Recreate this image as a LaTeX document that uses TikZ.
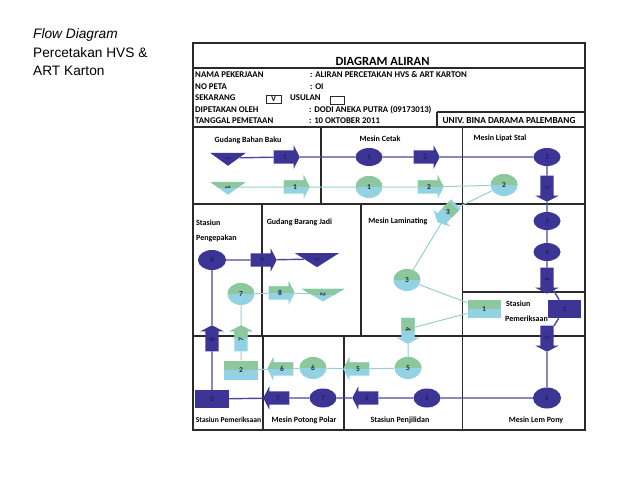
\documentclass[tikz,border=0pt]{standalone}
\usepackage{fontspec}
\setmainfont{Carlito}
\newfontfamily\arialf{Liberation Sans}
\usetikzlibrary{shapes.geometric,shapes.arrows}
\definecolor{purp}{HTML}{3D3596}
\definecolor{purpline}{HTML}{4E479E}
\definecolor{purptext}{HTML}{231E68}
\definecolor{grn}{HTML}{8DC79C}
\definecolor{blu}{HTML}{93D2E2}
\definecolor{gtext}{HTML}{1C2A55}
\definecolor{tealline}{HTML}{98D0D2}
\definecolor{gridc}{HTML}{2A2A2A}
\newcommand\myNumFont{\fontsize{7.5}{7.5}\selectfont\bfseries}
\begin{document}
\begin{tikzpicture}[x=1pt,y=-1pt,
 grid/.style={draw=gridc,line width=1.1pt},
 hdr/.style={anchor=base west,inner sep=0pt,font=\fontsize{8.8}{9}\selectfont\bfseries},
 lbl/.style={anchor=base,inner sep=0pt,font=\fontsize{8}{9}\selectfont\bfseries},
 lbll/.style={anchor=base west,inner sep=0pt,font=\fontsize{8}{9}\selectfont\bfseries},
 pshape/.style={fill=purp,text=purptext,inner sep=0pt,font=\myNumFont},
 gshape/.style={fill=blu,text=gtext,inner sep=0pt,font=\myNumFont,
   path picture={\fill[grn] (path picture bounding box.north west) rectangle (path picture bounding box.east);}},
 ell/.style={ellipse,minimum width=27pt,minimum height=19pt},
 boxn/.style={rectangle,minimum width=33pt,minimum height=18pt},
 tri/.style={isosceles triangle,isosceles triangle stretches,rotate=-90},
 arw/.style={single arrow,single arrow head extend=5pt,single arrow tip angle=125,
   text height=5pt,text depth=0pt,inner xsep=2pt,inner ysep=4pt,minimum height=26pt},
 pl/.style={draw=purpline,line width=1.4pt},
 tl/.style={draw=tealline,line width=1pt},
 chk/.style={draw=gridc,line width=0.8pt,inner sep=0pt,minimum width=15pt,minimum height=8pt,font=\fontsize{7.5}{7.5}\selectfont\bfseries}
]
\useasboundingbox (0,0) rectangle (638,479);
\fill[white] (0,0) rectangle (638,479);

% left title
\node[anchor=base west,inner sep=0pt,font=\arialf\fontsize{13.7}{16}\selectfont\itshape] (t1) at (33,38.5) {Flow Diagram};
\node[anchor=base west,inner sep=0pt,font=\arialf\fontsize{13.7}{16}\selectfont] (t2) at (33,57) {Percetakan HVS \&};
\node[anchor=base west,inner sep=0pt,font=\arialf\fontsize{13.7}{16}\selectfont] (t3) at (33,75) {ART Karton};

% frame and grid
\draw[grid] (193,43) rectangle (585,430);
\draw[grid] (193,68) -- (585,68);
\draw[grid] (437,112) -- (585,112);
\draw[grid] (437,112) -- (437,127);
\draw[grid] (193,127) -- (585,127);
\draw[grid] (193,204) -- (585,204);
\draw[grid] (321,127) -- (321,204);
\draw[grid] (462.5,127) -- (462.5,430);
\draw[grid] (262,204) -- (262,336);
\draw[grid] (361,204) -- (361,336);
\draw[grid] (462.5,292) -- (585,292);
\draw[grid] (193,336) -- (585,336);
\draw[grid] (263,336) -- (263,430);
\draw[grid] (344,336) -- (344,430);

% header
\node[anchor=base,inner sep=0pt,font=\fontsize{12.5}{13}\selectfont\bfseries] (title) at (382.5,65) {DIAGRAM ALIRAN};
\node[hdr] (h1) at (195,77.3) {NAMA PEKERJAAN};
\node[hdr] (h2) at (195,89) {NO PETA};
\node[hdr] (h3) at (195,100.7) {SEKARANG};
\node[hdr] (h4) at (195,112) {DIPETAKAN OLEH};
\node[hdr] (h5) at (195,123.7) {TANGGAL PEMETAAN};
\node[hdr] (v1) at (310,77.3) {: ALIRAN PERCETAKAN HVS \& ART KARTON};
\node[hdr] (v2) at (310,89) {: OI};
\node[hdr] (v4) at (309,112) {: DODI ANEKA PUTRA (09173013)};
\node[hdr] (v5) at (309,123.7) {: 10 OKTOBER 2011};
\node[chk] (cb1) at (273.5,99.5) {V};
\node[hdr] (us) at (290,100.7) {USULAN};
\node[chk,minimum width=14pt] (cb2) at (337,100) {};
\node[anchor=base,inner sep=0pt,font=\fontsize{9.3}{9}\selectfont\bfseries] (univ) at (509,123.7) {UNIV. BINA DARAMA PALEMBANG};

% cell labels
\node[lbl] (l1) at (248,142) {Gudang Bahan Baku};
\node[lbl] (l2) at (380,141) {Mesin Cetak};
\node[lbl] (l3) at (500,140) {Mesin Lipat Stal};
\node[lbll] (l4) at (196,225.5) {Stasiun};
\node[lbll] (l5) at (196,240) {Pengepakan};
\node[lbl] (l6) at (299.5,224.5) {Gudang Barang Jadi};
\node[lbl] (l7) at (398,223.5) {Mesin Laminating};
\node[lbll] (l8) at (506,306.5) {Stasiun};
\node[lbll] (l9) at (505,321.5) {Pemeriksaan};
\node[lbl,font=\fontsize{7.6}{9}\selectfont\bfseries] (l10) at (228.5,422.5) {Stasiun Pemeriksaan};
\node[lbl] (l11) at (304,422.5) {Mesin Potong Polar};
\node[lbl] (l12) at (400,422.5) {Stasiun Penjilidan};
\node[lbl] (l13) at (536,422.5) {Mesin Lem Pony};

% purple chain (HVS)
\node[pshape,tri,minimum width=36pt,minimum height=13pt] (pT1) at (228,158) {1};
\node[pshape,arw] (pA1) at (285,157) {1};
\node[pshape,ell,minimum height=18pt] (pO1) at (369,157) {1};
\node[pshape,arw] (pA2) at (425,157) {2};
\node[pshape,ell,minimum height=18pt] (pO2) at (547,157) {2};
\node[pshape,arw,rotate=-90] (pA3) at (547,187) {3};
\node[pshape,ell,minimum height=18pt] (pO3) at (547,221) {3};
\node[pshape,ell,minimum height=18pt] (pO4) at (547,252) {4};
\node[pshape,arw,rotate=-90] (pA4) at (547,279) {4};
\node[pshape,boxn] (pI1) at (564.5,309) {1};
\node[pshape,arw,rotate=-90] (pA5) at (547,337) {5};
\node[pshape,ell,minimum width=28pt,minimum height=21pt] (pO5) at (547,398) {5};
\node[pshape,ell] (pO6) at (427,398) {6};
\node[pshape,arw,rotate=180] (pA6) at (367,398) {\rotatebox[origin=c]{180}{6}};
\node[pshape,ell] (pO7) at (323,398) {7};
\node[pshape,arw,rotate=180] (pA7) at (278,398) {\rotatebox[origin=c]{180}{7}};
\node[pshape,boxn,minimum width=34pt] (pI2) at (212,399) {2};
\node[pshape,arw,rotate=90] (pA8) at (212,340) {8};
\node[pshape,ell,minimum width=28pt,minimum height=20pt] (pO8) at (212,260) {8};
\node[pshape,arw] (pA9) at (262,260) {9};
\node[pshape,tri,minimum width=44pt,minimum height=14pt] (pT2) at (317,259) {2};

% green chain (ART Karton)
\node[gshape,tri,minimum width=36pt,minimum height=13pt] (gT1) at (228,187) {1};
\node[gshape,arw] (gA1) at (295,187) {1};
\node[gshape,ell,minimum height=22pt] (gO1) at (369,187) {1};
\node[gshape,arw] (gA2) at (429,187) {2};
\node[gshape,ell,minimum height=22pt] (gO2) at (504,185) {2};
\node[gshape,arw,rotate=225] (gA3) at (448,212) {\rotatebox[origin=c]{135}{3}};
\node[gshape,ell,minimum height=22pt] (gO3) at (407,280) {3};
\node[gshape,boxn] (gI1) at (484,309) {1};
\node[gshape,arw,rotate=-90] (gA4) at (408,329) {4};
\node[gshape,ell,minimum height=22pt] (gO5) at (408,368) {5};
\node[gshape,arw,rotate=180] (gA5) at (358,369) {\rotatebox[origin=c]{180}{5}};
\node[gshape,ell,minimum height=22pt] (gO6) at (313,368) {6};
\node[gshape,arw,rotate=180] (gA6) at (282,369) {\rotatebox[origin=c]{180}{6}};
\node[gshape,boxn,minimum width=34pt,minimum height=19pt] (gI2) at (241,370) {2};
\node[gshape,arw,rotate=90] (gA7) at (241,340) {7};
\node[gshape,ell,minimum height=22pt] (gO7) at (241,294) {7};
\node[gshape,arw] (gA8) at (280,293) {8};
\node[gshape,tri,minimum width=44pt,minimum height=13pt] (gT2) at (323,294) {2};

% connectors
\draw[pl] (pT1) -- (pA1) -- (pO1) -- (pA2) -- (pO2) -- (pA3) -- (pO3) -- (pO4) -- (pA4) -- (pI1) -- (pA5) -- (pO5) -- (pO6) -- (pA6) -- (pO7) -- (pA7) -- (pI2) -- (pA8) -- (pO8) -- (pA9) -- (pT2);
\draw[tl] (gT1) -- (gA1) -- (gO1) -- (gA2) -- (gO2) -- (gA3) -- (gO3) -- (gI1) -- (gA4) -- (gO5) -- (gA5) -- (gO6) -- (gA6) -- (gI2) -- (gA7) -- (gO7) -- (gA8) -- (gT2);
\end{tikzpicture}
\end{document}
